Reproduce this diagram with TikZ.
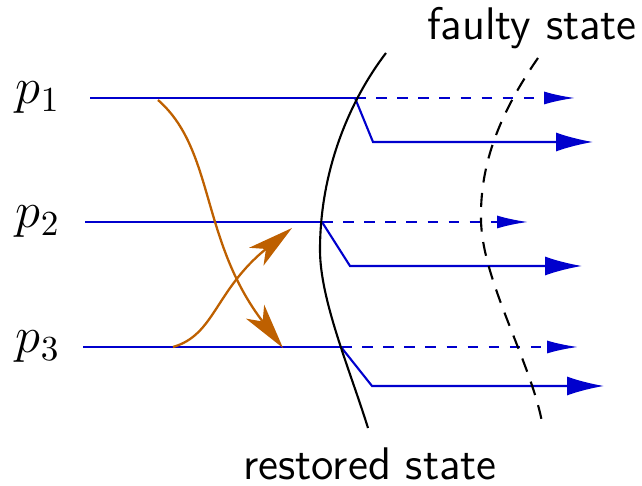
\documentclass[tikz,border=0pt]{standalone}
\usepackage{amsmath}
\usepackage{tikz}
\usetikzlibrary{arrows.meta, positioning}

\definecolor{runblue}{RGB}{0,0,205}
\definecolor{msgorange}{RGB}{190,96,0}

\begin{document}
\begin{tikzpicture}[
    x=0.01cm, y=-0.01cm,
    proc/.style={
        font=\Large,
        inner sep=0pt
    },
    statetext/.style={
        font=\fontsize{13}{15}\selectfont\sffamily,
        inner sep=0pt
    },
    run/.style={
        draw=runblue,
        line width=0.6pt
    },
    fwd/.style={
        run,
        -{Latex[length=10.5pt, width=5.4pt]}
    },
    lost/.style={
        run,
        dashed,
        -{Latex[length=8.8pt, width=3.7pt]}
    },
    msg/.style={
        draw=msgorange,
        line width=0.65pt,
        -{Stealth[length=13pt, width=6.5pt, inset=3.5pt]}
    },
    cut/.style={
        line width=0.6pt
    }
]
\useasboundingbox (0,0) rectangle (642,486);

% Processes
\node[proc] (p1) at (38,98)  {$p_1$};
\node[proc] (p2) at (38,222) {$p_2$};
\node[proc] (p3) at (38,347) {$p_3$};

% Line starts, crossing points, bends, tips
\coordinate (s1) at (90,98);
\coordinate (s2) at (85,222);
\coordinate (s3) at (83,347);

\coordinate (c1) at (355,98);
\coordinate (c2) at (322,222);
\coordinate (c3) at (341,347);

\coordinate (b1) at (373,142);
\coordinate (b2) at (350,266);
\coordinate (b3) at (372,386);

\coordinate (d1) at (575,98);
\coordinate (d2) at (528,222);
\coordinate (d3) at (578,347);

\coordinate (e1) at (593,142);
\coordinate (e2) at (582,266);
\coordinate (e3) at (604,386);

% Process lines
\foreach \i in {1,2,3} {
    \draw[run]  (s\i) -- (c\i);
    \draw[lost] (c\i) -- (d\i);
    \draw[fwd]  (c\i) -- (b\i) -- (e\i);
}

% Messages
\coordinate (m1) at (158,100);
\coordinate (m2) at (283,348);
\coordinate (m3) at (173,347);
\coordinate (m4) at (292,228);

\draw[msg] (m1) .. controls (215,150) and (200,240) .. (m2);
\draw[msg] (m3) .. controls (215,335) and (215,290) .. (m4);

% Restored state
\coordinate (rtop) at (386,53);
\coordinate (rmid) at (320,250);
\coordinate (rbot) at (368,428);
\draw[cut] (rtop) .. controls (350,100) and (320,170) .. (rmid)
                  .. controls (320,300) and (350,370) .. (rbot);

% Faulty state
\coordinate (ftop) at (538,58);
\coordinate (fmid) at (481,220);
\coordinate (fbot) at (542,422);
\draw[cut, dash pattern=on 4pt off 3pt]
    (ftop) .. controls (495,120) and (480,170) .. (fmid)
           .. controls (482,280) and (530,360) .. (fbot);

% Titles
\node[statetext] (faulty)   at (532,28)  {faulty state};
\node[statetext] (restored) at (370,464) {restored state};

\end{tikzpicture}
\end{document}
